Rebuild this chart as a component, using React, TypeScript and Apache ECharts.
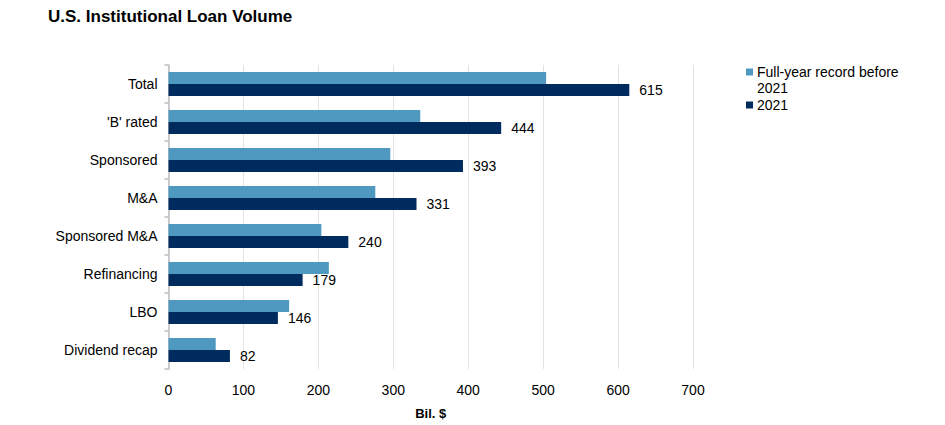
import React, { useEffect, useRef } from "react";
import * as echarts from "echarts";

const categories = ["Total", "'B' rated", "Sponsored", "M&A", "Sponsored M&A", "Refinancing", "LBO", "Dividend recap"];
const recordBefore2021 = [504, 336, 296, 276, 204, 214, 161, 63];
const values2021 = [615, 444, 393, 331, 240, 179, 146, 82];
const xTicks = [0, 100, 200, 300, 400, 500, 600, 700];
const seriesNames = ["Full-year record before 2021", "2021"];

export default function App() {
  const ref = useRef<HTMLDivElement>(null);
  useEffect(() => {
    const chart = echarts.init(ref.current!, null, { renderer: "svg" });
    const font = "Arial, 'Liberation Sans', sans-serif";
    const legendText = { fontFamily: font, fontSize: 14, color: "#000", padding: [0, 0, 0, -1] };
    chart.setOption({
      animation: false,
      backgroundColor: "#ffffff",
      textStyle: { fontFamily: font },
      title: {
        text: "U.S. Institutional Loan Volume",
        left: 43,
        top: 3,
        textStyle: { fontFamily: font, fontSize: 17, fontWeight: "bold", color: "#000" },
      },
      legend: [
        {
          orient: "vertical",
          left: 746,
          top: 65,
          padding: 0,
          itemWidth: 7,
          itemHeight: 7,
          icon: "rect",
          data: [seriesNames[0]],
          formatter: () => "Full-year record before",
          textStyle: legendText,
        },
        {
          orient: "vertical",
          left: 746,
          top: 98,
          padding: 0,
          itemWidth: 7,
          itemHeight: 7,
          icon: "rect",
          data: [seriesNames[1]],
          textStyle: legendText,
        },
      ],
      graphic: [
        {
          type: "text",
          left: 757,
          top: 81,
          style: { text: "2021", fontFamily: font, fontSize: 14, fill: "#000" },
        },
      ],
      grid: { left: 168.5, right: 252, top: 65, bottom: 53 },
      xAxis: {
        type: "value",
        min: xTicks[0],
        max: xTicks[xTicks.length - 1],
        interval: 100,
        name: "Bil. $",
        nameLocation: "middle",
        nameGap: 38,
        nameTextStyle: { fontFamily: font, fontSize: 13, fontWeight: "bold", color: "#000" },
        axisLine: { show: false },
        axisTick: { show: false },
        axisLabel: { fontFamily: font, fontSize: 14, color: "#000", margin: 14 },
        splitLine: { show: true, lineStyle: { color: "#e3e3e3", width: 1 } },
      },
      yAxis: {
        type: "category",
        data: categories,
        inverse: true,
        axisLine: { show: true, lineStyle: { color: "#bfbfbf", width: 1.5 } },
        axisTick: { show: true, length: 4, lineStyle: { color: "#bfbfbf", width: 1.5 } },
        axisLabel: { fontFamily: font, fontSize: 14, color: "#000", margin: 11 },
        splitLine: { show: false },
      },
      series: [
        {
          name: seriesNames[0],
          type: "bar",
          data: recordBefore2021,
          itemStyle: { color: "#4f98c0" },
          barWidth: 12,
          barGap: "0%",
          barCategoryGap: "37%",
        },
        {
          name: seriesNames[1],
          type: "bar",
          data: values2021,
          itemStyle: { color: "#002b5e" },
          barWidth: 12,
          barGap: "0%",
          label: {
            show: true,
            position: "right",
            distance: 10,
            fontFamily: font,
            fontSize: 14,
            color: "#000",
          },
        },
      ],
    });
    return () => chart.dispose();
  }, []);
  return <div ref={ref} style={{ position: "fixed", left: 0, top: 0, width: 945, height: 425 }} />;
}
